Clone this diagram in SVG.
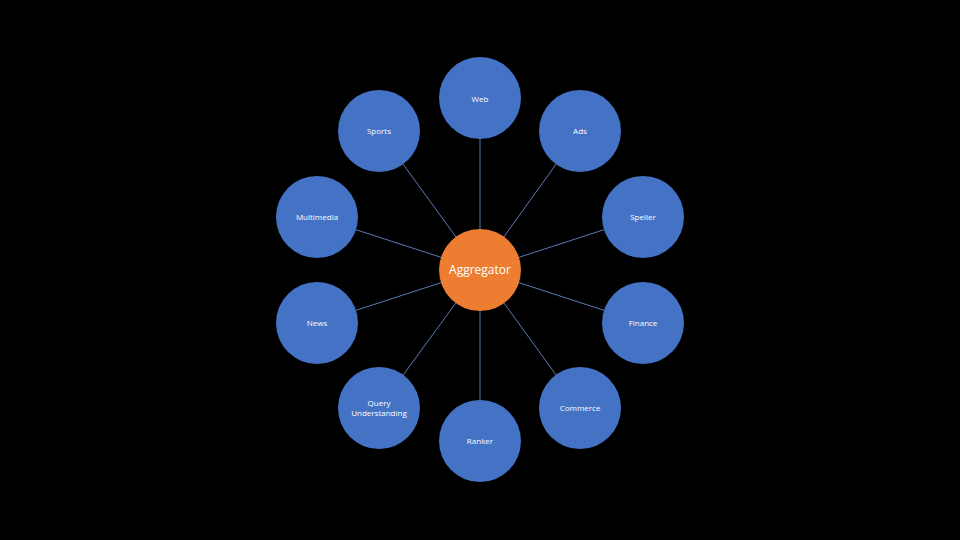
<svg xmlns="http://www.w3.org/2000/svg" width="960" height="540" viewBox="0 0 960 540">
<style>
.bg{fill:#000000}
.node{fill:#4472C4}
.hub{fill:#ED7D31}
.lbl{fill:#FFFFFF;font-family:"Open Sans","Liberation Sans",sans-serif;font-size:8px;text-anchor:middle}
.hlbl{fill:#FFFFFF;font-family:"Open Sans","Liberation Sans",sans-serif;font-size:12px;text-anchor:middle}
.edge{stroke:#5B78B8;stroke-width:1;fill:none}
</style>
<rect class="bg" x="0" y="0" width="960" height="540"/>
<g id="connectors">
<line class="edge" x1="480" y1="270" x2="480" y2="98"/>
<line class="edge" x1="480" y1="270" x2="580" y2="131"/>
<line class="edge" x1="480" y1="270" x2="379" y2="131"/>
<line class="edge" x1="480" y1="270" x2="317" y2="217"/>
<line class="edge" x1="480" y1="270" x2="643" y2="217"/>
<line class="edge" x1="480" y1="270" x2="317" y2="323"/>
<line class="edge" x1="480" y1="270" x2="643" y2="323"/>
<line class="edge" x1="480" y1="270" x2="379" y2="408"/>
<line class="edge" x1="480" y1="270" x2="580" y2="408"/>
<line class="edge" x1="480" y1="270" x2="480" y2="441"/>
</g>
<g id="web"><circle class="node" cx="480" cy="98" r="41"/><text class="lbl" x="480" y="102">Web</text></g>
<g id="ads"><circle class="node" cx="580" cy="131" r="41"/><text class="lbl" x="580" y="134">Ads</text></g>
<g id="sports"><circle class="node" cx="379" cy="131" r="41"/><text class="lbl" x="379" y="134">Sports</text></g>
<g id="multimedia"><circle class="node" cx="317" cy="217" r="41"/><text class="lbl" x="317" y="220">Multimedia</text></g>
<g id="speller"><circle class="node" cx="643" cy="217" r="41"/><text class="lbl" x="643" y="220">Speller</text></g>
<g id="news"><circle class="node" cx="317" cy="323" r="41"/><text class="lbl" x="317" y="326">News</text></g>
<g id="finance"><circle class="node" cx="643" cy="323" r="41"/><text class="lbl" x="643" y="326">Finance</text></g>
<g id="query"><circle class="node" cx="379" cy="408" r="41"/><text class="lbl" x="379" y="406">Query</text><text class="lbl" x="379" y="416">Understanding</text></g>
<g id="commerce"><circle class="node" cx="580" cy="408" r="41"/><text class="lbl" x="580" y="411">Commerce</text></g>
<g id="ranker"><circle class="node" cx="480" cy="441" r="41"/><text class="lbl" x="480" y="444">Ranker</text></g>
<g id="aggregator"><circle class="hub" cx="480" cy="270" r="41"/><text class="hlbl" x="480" y="274">Aggregator</text></g>
</svg>
